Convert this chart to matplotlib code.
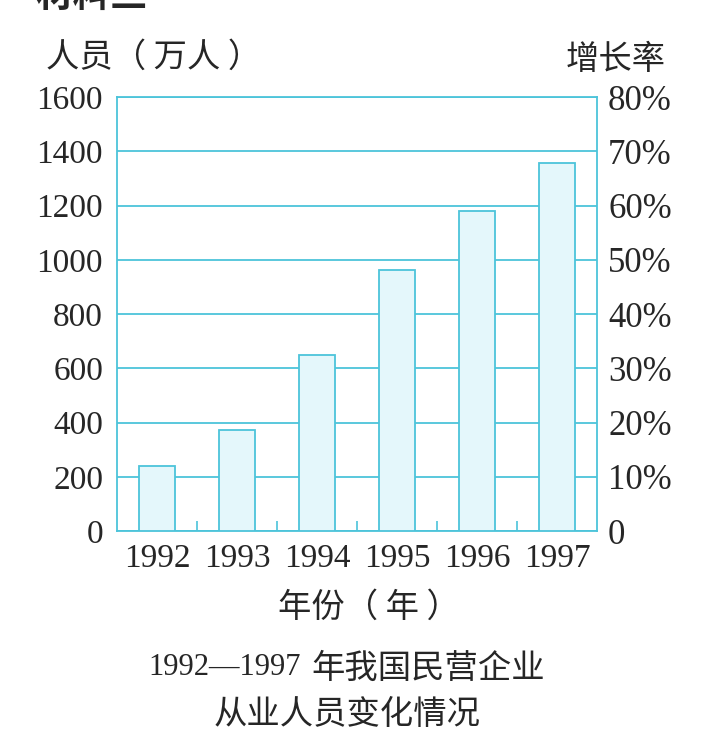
"""Bar chart: private enterprise employees in China, 1992-1997."""

import matplotlib

matplotlib.use("Agg")
import matplotlib.pyplot as plt
import numpy as np

YEARS = ["1992", "1993", "1994", "1995", "1996", "1997"]
EMPLOYEES = [240, 372, 649, 962, 1180, 1357]  # 万人
LEFT_TICKS = [0, 200, 400, 600, 800, 1000, 1200, 1400, 1600]
RIGHT_TICKS = [0, 10, 20, 30, 40, 50, 60, 70, 80]
RIGHT_LABELS = ["0", "10%", "20%", "30%", "40%", "50%", "60%", "70%", "80%"]

CYAN = "#4cc4da"
FILL = "#e4f7fb"
INK = "#262626"
SERIF = ["Liberation Serif", "DejaVu Serif"]
CJK = ["Noto Sans CJK SC", "Liberation Serif", "DejaVu Sans"]


def main() -> None:
    fig = plt.figure(figsize=(7.03, 7.40), dpi=100)
    ax = fig.add_axes([0.1664, 0.2824, 0.6828, 0.5865])
    x = np.arange(len(YEARS))

    ax.set_axisbelow(True)
    ax.grid(axis="y", color=CYAN, linewidth=1.3)
    ax.bar(x, EMPLOYEES, width=0.45, color=FILL, edgecolor=CYAN, linewidth=1.3, zorder=3)

    ax.set_xlim(-0.5, len(YEARS) - 0.5)
    ax.set_ylim(0, 1600)
    ax.set_yticks(LEFT_TICKS)
    ax.set_yticklabels([str(v) for v in LEFT_TICKS], family=SERIF, fontsize=24, color=INK)
    ax.set_xticks(x)
    ax.set_xticklabels(YEARS, family=SERIF, fontsize=24, color=INK)
    ax.set_xticks(x[:-1] + 0.5, minor=True)
    ax.tick_params(axis="x", which="major", length=0, pad=9)
    ax.tick_params(axis="x", which="minor", direction="in", length=7, width=1.2, color=CYAN)
    ax.tick_params(axis="y", length=0, pad=10)
    for spine in ax.spines.values():
        spine.set_color(CYAN)
        spine.set_linewidth(1.3)

    ax2 = ax.twinx()
    ax2.set_ylim(0, 80)
    ax2.set_yticks(RIGHT_TICKS)
    ax2.set_yticklabels(RIGHT_LABELS, family=SERIF, fontsize=25, color=INK)
    ax2.tick_params(axis="y", length=0, pad=8)
    for spine in ax2.spines.values():
        spine.set_visible(False)

    fig.text(0.066, 0.922, "人员（ 万人 ）", family=CJK, fontsize=24, color=INK,
             ha="left", va="center")
    fig.text(0.947, 0.919, "增长率", family=CJK, fontsize=24, color=INK,
             ha="right", va="center")
    fig.text(0.395, 0.180, "年份（ 年 ）", family=CJK, fontsize=24, color=INK,
             ha="left", va="center")
    fig.text(0.428, 0.098, "1992—1997", family=SERIF, fontsize=22, color=INK,
             ha="right", va="center")
    fig.text(0.443, 0.097, "年我国民营企业", family=CJK, fontsize=24, color=INK,
             ha="left", va="center")
    fig.text(0.494, 0.034, "从业人员变化情况", family=CJK, fontsize=24, color=INK,
             ha="center", va="center")
    # heading cut off by the top edge of the scan
    fig.text(0.05, 1.006, "材料三", family=CJK, fontsize=27, fontweight="bold",
             color=INK, ha="left", va="center")

    fig.savefig("out.png", dpi=100)
    plt.close(fig)


if __name__ == "__main__":
    main()
